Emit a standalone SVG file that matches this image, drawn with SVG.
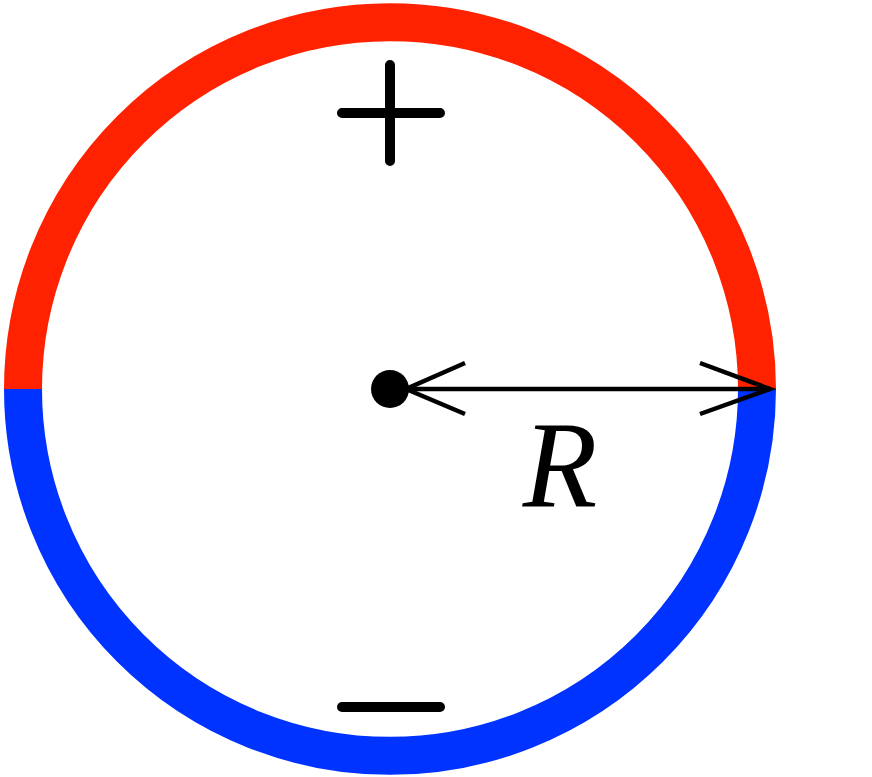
<svg xmlns="http://www.w3.org/2000/svg" width="872" height="777" viewBox="0 0 872 777">
<style>
.ring{fill:none;stroke-width:38}
.sign{stroke:#000;stroke-width:10;stroke-linecap:round;fill:none}
.arr{stroke:#000;stroke-width:4.5;fill:none;stroke-linejoin:miter}
</style>
<rect width="872" height="777" fill="#fff"/>
<g id="circle">
<path class="ring" stroke="#ff2200" d="M23,389 A367,367 0 0 1 757,389"/>
<path class="ring" stroke="#0033ff" d="M23,389 A367,367 0 0 0 757,389"/>
</g>
<g id="plus"><path class="sign" d="M342,113 H440 M390,65 V161"/></g>
<g id="minus"><path class="sign" d="M342,707 H440"/></g>
<g id="center"><circle cx="390" cy="389" r="19" fill="#000"/></g>
<g id="connectors">
<path class="arr" d="M404,389 H770"/>
<path class="arr" d="M465,363 L406,389 L465,414"/>
<path class="arr" d="M700,363 L770,389 L700,414"/>
</g>
<g id="label"><text x="560" y="506" font-family="Liberation Serif, serif" font-style="italic" font-size="122" text-anchor="middle">R</text></g>
</svg>
